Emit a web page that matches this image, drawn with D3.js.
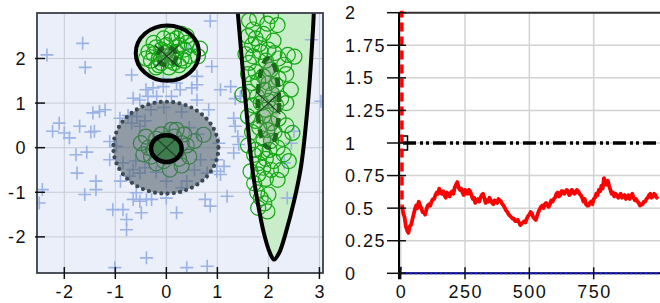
<!DOCTYPE html>
<html>
<head>
<meta charset="utf-8">
<script src="https://cdn.jsdelivr.net/npm/d3@7"></script>
<style>
body { margin: 0; background: #fff; }
svg text { font-family: "Liberation Sans", Arial, sans-serif; font-size: 18px; letter-spacing: 1.5px; fill: #111; }
</style>
</head>
<body>
<svg width="660" height="303"></svg>
<script>
// LEFT PANEL DATA
var leftXTicks = [-2, -1, 0, 1, 2, 3];
var leftYTicks = [-2, -1, 0, 1, 2];

// blue "+" samples
var blueCrosses = [
  [-2.34,2.08],[-1.64,2.34],[-1.59,1.80],[0.86,2.84],[0.89,1.82],[-0.68,1.63],[0.43,2.23],[0.6,1.41],
  [-0.26,1.34],[-0.06,1.37],[0.27,1.3],[0.5,1.34],[0.1,1.15],[-0.19,1.15],[-0.65,1.11],[-0.52,1.07],
  [-0.36,1.15],[-0.06,1.55],[0.2,1.45],[-0.4,1.3],[1.06,1.3],[1.26,1.37],[0.83,0.85],[0.6,1.07],
  [-1.31,0.81],[-1.44,0.78],[-1.2,0.85],[-2.1,0.55],[-2.23,0.37],[-2.0,0.33],[-1.9,0.22],[-1.7,0.48],
  [-1.41,0.37],[-1.48,0.35],[-0.91,0.66],[-0.68,0.55],[-0.52,0.48],[-0.42,0.6],[-0.75,0.72],[-0.58,0.7],
  [1.32,0.66],[1.42,0.07],[1.32,-0.12],[1.35,0.48],[1.4,0.25],[1.03,0.1],[0.45,0.45],[0.62,0.3],
  [-1.11,0.14],[-0.98,0.03],[-1.77,-0.16],[-1.56,-0.1],[-1.11,-0.27],[-0.85,-0.34],[-1.75,-0.57],
  [-1.38,-0.75],[-1.38,-0.94],[-2.43,-0.94],[-2.49,-1.24],[-0.65,-0.49],[-0.52,-0.57],[-0.72,-0.64],
  [-0.42,-0.45],[-0.6,-0.3],[0.67,-0.27],[0.8,-0.57],[0.99,-0.53],[1.13,-0.42],[1.06,-0.6],[0.99,-0.27],
  [0.4,-0.75],[0.0,-0.75],[0.55,-0.5],[-0.59,-1.01],[-0.65,-1.16],[-0.52,-1.2],[-0.39,-1.16],[-0.29,-1.16],
  [0.0,-1.13],[-1.05,-1.39],[-0.85,-1.39],[-0.78,-1.61],[-0.78,-1.84],[-0.49,-1.46],[0.2,-1.46],
  [0.76,-1.16],[0.86,-1.31],[1.19,-1.09],[-0.39,-2.47],[-1.01,-2.69],[0.4,-2.69],[0.8,-2.66],
  [3.03,1.04],[2.84,2.42],[1.45,1.15],[1.35,1.1],[2.5,0.37],[2.37,-1.13],[2.31,-0.34],[2.45,0.1],
  [-0.2,-0.55],[0.3,-0.9],[-0.9,-0.75],[-1.6,-1.05],[0.6,1.6],[-0.3,0.85],[0.3,0.8],[-0.05,0.9]
];

// green "o" samples, three clusters
var greenCircles = [
  // around (0, 2)
  [-0.05,2.05],[0.1,2.1],[-0.15,2.0],[0.05,1.95],[0.2,2.15],[-0.25,2.1],[0.15,1.9],[-0.1,2.2],
  [0.3,2.0],[0,2.3],[-0.3,1.95],[0.25,2.3],[0.4,2.35],[0.35,2.2],[-0.2,2.25],[0.1,2.4],
  [-0.35,2.15],[0.05,1.8],[-0.15,1.85],[0.25,1.85],[0.45,2.05],[0.5,2.3],[-0.05,2.45],[0.2,2.45],
  [0.62,2.05],[-0.4,2.0],[0.3,2.55],[0.1,2.55],[-0.25,2.35],[0.15,2.0],[-0.1,1.9],[0.35,1.95],
  [0.0,2.15],[-0.2,1.8],[0.4,2.5],[0.66,2.22],
  // around (0, 0)
  [0,0],[0.1,0.05],[-0.1,-0.05],[0.05,0.15],[-0.15,0.1],[0.2,-0.1],[-0.25,-0.05],[0.15,0.25],
  [-0.2,0.2],[0.3,0.1],[-0.35,0.0],[0.05,-0.2],[-0.05,-0.3],[0.25,-0.25],[-0.3,-0.2],[0.4,0.05],
  [-0.45,-0.15],[0.1,0.4],[-0.1,0.3],[0.35,0.3],[0.45,-0.2],[0.07,-0.49],[0.73,0.29],[-0.5,0.1],
  [0.2,0.4],[-0.2,-0.35],[0.55,0.15],[-0.4,0.25],[0.3,-0.4],[0,0.2],
  // around (2, 1)
  [1.62,2.85],[1.78,2.9],[1.98,2.78],[2.18,2.75],[1.7,2.65],[2.05,2.95],[1.6,2.5],[1.75,2.45],
  [1.9,2.55],[2.1,2.4],[1.68,2.3],[1.82,2.32],[1.55,2.1],[1.7,2.05],[1.85,2.15],[2.0,2.2],
  [2.2,2.0],[2.38,2.08],[2.51,2.04],[1.95,1.95],[2.12,2.12],[2.31,1.86],[1.62,1.9],[1.6,1.65],
  [1.75,1.7],[1.9,1.6],[2.05,1.75],[2.2,1.55],[2.35,1.65],[1.8,1.5],[2.0,1.45],[2.15,1.4],
  [1.68,1.45],[1.49,1.19],[1.62,1.25],[1.78,1.15],[1.92,1.3],[2.08,1.2],[2.25,1.1],[2.44,1.3],
  [1.85,1.0],[2.0,1.05],[2.15,0.95],[1.7,0.95],[2.35,1.0],[1.95,0.85],[1.6,0.7],[1.75,0.6],
  [1.9,0.7],[2.05,0.55],[2.2,0.65],[2.35,0.5],[1.82,0.45],[1.98,0.4],[2.12,0.35],[2.47,0.33],
  [1.68,0.35],[2.28,0.2],[1.9,0.2],[2.05,0.15],[1.6,0.05],[1.75,-0.05],[1.72,-0.16],[1.88,-0.1],
  [2.02,-0.05],[2.18,0.0],[2.3,-0.15],[1.95,-0.25],[2.1,-0.3],[1.8,-0.35],[2.4,-0.3],[1.65,-0.53],
  [1.8,-0.6],[1.95,-0.7],[2.18,-0.72],[2.05,-0.5],[1.9,-0.45],[2.25,-0.5],[1.72,-0.8],[1.85,-1.13],
  [1.78,-1.0],[2.0,-1.05],[1.92,-1.25],[1.8,-1.35],[1.98,-1.43]
];

// decision boundary of the right class
var boundaryPts = [
  [1.38,3.3],[1.40,3.03],[1.55,1.07],[1.68,-0.42],[1.78,-1.16],[1.91,-1.91],[2.03,-2.36],[2.11,-2.51],
  [2.21,-2.36],[2.34,-1.91],[2.51,-1.16],[2.64,-0.42],[2.78,1.07],[2.87,2.57],[2.89,3.03],[2.9,3.3]
];
// [cx, cy, r]
var topRegion = [0.02, 2.12, 0.62];
var centerRegion = [0.0, -0.02, 0.3];
var grayRegion = [-0.01, 0.0, 1.03];
// dashed cluster ellipses [cx, cy, rx, ry]
var clusterEllipses = [[0.01, 2.05, 0.18, 0.2], [2.0, 1.0, 0.21, 1.0]];
var clusterCenters = [[0, 0], [0.01, 2.05], [2.0, 1.0]];

// RIGHT PANEL DATA
var rightXTicks = [0, 250, 500, 750];
var rightYTicks = [0, 0.25, 0.5, 0.75, 1, 1.25, 1.5, 1.75, 2];

var redHeadX = [4, 5];
var redHeadY = [3.0, 0.52];
var redStart = 10, redStep = 5;
var redY = [
  0.46,0.43,0.36,0.33,0.31,0.36,0.37,0.41,0.45,0.49,0.52,0.50,0.55,0.52,0.50,0.47,0.47,0.45,0.49,0.52,
  0.53,0.52,0.55,0.57,0.57,0.60,0.62,0.61,0.65,0.62,0.61,0.63,0.60,0.58,0.62,0.60,0.59,0.62,0.63,0.61,
  0.66,0.68,0.70,0.66,0.64,0.65,0.62,0.60,0.64,0.62,0.61,0.64,0.63,0.60,0.57,0.58,0.54,0.56,0.57,0.55,
  0.58,0.60,0.61,0.58,0.54,0.56,0.55,0.58,0.56,0.54,0.53,0.56,0.55,0.54,0.57,0.56,0.55,0.53,0.52,0.50,
  0.48,0.47,0.45,0.44,0.43,0.42,0.42,0.40,0.40,0.41,0.39,0.37,0.38,0.39,0.40,0.39,0.42,0.44,0.45,0.47,
  0.46,0.43,0.42,0.41,0.44,0.47,0.49,0.51,0.52,0.50,0.53,0.54,0.52,0.51,0.53,0.56,0.55,0.57,0.58,0.61,
  0.62,0.59,0.60,0.63,0.63,0.61,0.62,0.64,0.63,0.60,0.61,0.64,0.63,0.61,0.62,0.64,0.63,0.61,0.60,0.58,
  0.55,0.57,0.53,0.52,0.52,0.54,0.55,0.53,0.57,0.58,0.61,0.60,0.64,0.63,0.67,0.65,0.73,0.69,0.68,0.71,
  0.67,0.64,0.61,0.62,0.59,0.61,0.60,0.58,0.59,0.61,0.58,0.59,0.60,0.57,0.58,0.60,0.57,0.59,0.61,0.58,
  0.56,0.57,0.55,0.54,0.52,0.53,0.53,0.55,0.55,0.57,0.58,0.60,0.61,0.58,0.59,0.61,0.60,0.58,0.59
];
var blackX = [9, 1000];
var blackY = [1, 1];
var blueX = [0, 1, 1000];
var blueY = [0.05, 0, 0];

var svg = d3.select("svg");

// LEFT PANEL
var L = {x0: 37, x1: 323, y0: 13, y1: 273};
var xL = d3.scaleLinear().domain([-2.535, 3.07]).range([L.x0, L.x1]);
var yL = d3.scaleLinear().domain([-2.81, 3.02]).range([L.y1, L.y0]);

svg.append("clipPath").attr("id", "clipL")
  .append("rect").attr("x", L.x0).attr("y", L.y0).attr("width", L.x1 - L.x0).attr("height", L.y1 - L.y0);

svg.append("rect")
  .attr("x", L.x0).attr("y", L.y0).attr("width", L.x1 - L.x0).attr("height", L.y1 - L.y0)
  .attr("fill", "#eaeffa");

var left = svg.append("g").attr("clip-path", "url(#clipL)");

// grid
left.selectAll(".gx").data(leftXTicks).enter().append("line")
  .attr("x1", d => xL(d)).attr("x2", d => xL(d)).attr("y1", L.y0).attr("y2", L.y1)
  .attr("stroke", "#c6cbd6").attr("stroke-width", 1);
left.selectAll(".gy").data(leftYTicks).enter().append("line")
  .attr("x1", L.x0).attr("x2", L.x1).attr("y1", d => yL(d)).attr("y2", d => yL(d))
  .attr("stroke", "#c6cbd6").attr("stroke-width", 1);

var boundary = d3.line().x(d => xL(d[0])).y(d => yL(d[1])).curve(d3.curveCatmullRom);

function circ(g, c) {
  return g.append("ellipse")
    .attr("cx", xL(c[0])).attr("cy", yL(c[1]))
    .attr("rx", xL(c[2]) - xL(0)).attr("ry", yL(0) - yL(c[2]));
}

// light green regions
left.append("path").attr("d", boundary(boundaryPts)).attr("fill", "#c9edc9");
circ(left, topRegion).attr("fill", "#c9edc9");
circ(left, centerRegion).attr("fill", "#3d953d");

// blue crosses
left.selectAll(".cross").data(blueCrosses).enter().append("path")
  .attr("transform", d => "translate(" + xL(d[0]) + "," + yL(d[1]) + ")")
  .attr("d", "M-6.5,0H6.5M0,-6.5V6.5")
  .attr("stroke", "#9bb2e6").attr("stroke-width", 1.6).attr("fill", "none");

// green circles
left.selectAll(".circ").data(greenCircles).enter().append("circle")
  .attr("cx", d => xL(d[0])).attr("cy", d => yL(d[1])).attr("r", 7.5)
  .attr("fill", "none").attr("stroke", "#14a814").attr("stroke-width", 1.2);

// gray dotted region
circ(left, grayRegion)
  .attr("fill", "#54626e").attr("fill-opacity", 0.6)
  .attr("stroke", "#3c4954").attr("stroke-width", 4.2)
  .attr("stroke-linecap", "round").attr("stroke-dasharray", "0,6.3");

// dashed cluster ellipses
left.selectAll(".cell").data(clusterEllipses).enter().append("ellipse")
  .attr("cx", d => xL(d[0])).attr("cy", d => yL(d[1]))
  .attr("rx", d => xL(d[2]) - xL(0)).attr("ry", d => yL(0) - yL(d[3]))
  .attr("fill", "#6d7a6d").attr("fill-opacity", 0.35)
  .attr("stroke", "#1a6a1a").attr("stroke-width", 4.5).attr("stroke-dasharray", "9,6");

// X markers at cluster centres
left.selectAll(".xm").data(clusterCenters).enter().append("path")
  .attr("transform", d => "translate(" + xL(d[0]) + "," + yL(d[1]) + ")")
  .attr("d", "M-12,-11L12,11M-12,11L12,-11")
  .attr("stroke", "#1f3f25").attr("stroke-width", 1.2);

// black outlines
left.append("path").attr("d", boundary(boundaryPts))
  .attr("fill", "none").attr("stroke", "#000").attr("stroke-width", 4);
circ(left, topRegion).attr("fill", "none").attr("stroke", "#000").attr("stroke-width", 4);
circ(left, centerRegion).attr("fill", "none").attr("stroke", "#000").attr("stroke-width", 4.5);

// frame
svg.append("rect")
  .attr("x", L.x0).attr("y", L.y0).attr("width", L.x1 - L.x0).attr("height", L.y1 - L.y0)
  .attr("fill", "none").attr("stroke", "#3a3f4a").attr("stroke-width", 1.8);

// ticks + labels
svg.selectAll(".ltx").data(leftXTicks).enter().append("line")
  .attr("x1", d => xL(d)).attr("x2", d => xL(d)).attr("y1", L.y1 - 6).attr("y2", L.y1 + 6)
  .attr("stroke", "#111").attr("stroke-width", 1.5);
svg.selectAll(".ltxl").data(leftXTicks).enter().append("text")
  .attr("x", d => xL(d) + 0.75).attr("y", 298).attr("text-anchor", "middle")
  .text(d => d);
svg.selectAll(".lty").data(leftYTicks).enter().append("line")
  .attr("x1", L.x0 - 2).attr("x2", L.x0 + 8).attr("y1", d => yL(d)).attr("y2", d => yL(d))
  .attr("stroke", "#111").attr("stroke-width", 1.5);
svg.selectAll(".ltyl").data(leftYTicks).enter().append("text")
  .attr("x", 27).attr("y", d => yL(d) + 6.5).attr("text-anchor", "end")
  .text(d => d);

// RIGHT PANEL
var R = {x0: 399, x1: 660, y0: 12.7, y1: 273.3};
var xR = d3.scaleLinear().domain([-6.6, 1007.7]).range([R.x0, R.x1]);
var yR = d3.scaleLinear().domain([0, 2]).range([R.y1, R.y0]);

svg.append("clipPath").attr("id", "clipR")
  .append("rect").attr("x", R.x0).attr("y", R.y0 - 2).attr("width", R.x1 - R.x0).attr("height", R.y1 - R.y0 + 4);

var right = svg.append("g").attr("clip-path", "url(#clipR)");

right.selectAll(".gx").data(rightXTicks).enter().append("line")
  .attr("x1", d => xR(d)).attr("x2", d => xR(d)).attr("y1", R.y0).attr("y2", R.y1)
  .attr("stroke", "#d2d2d2").attr("stroke-width", 1.5);
right.selectAll(".gy").data(rightYTicks).enter().append("line")
  .attr("x1", R.x0).attr("x2", R.x1).attr("y1", d => yR(d)).attr("y2", d => yR(d))
  .attr("stroke", "#d2d2d2").attr("stroke-width", 1.5);

// axes lines (under the series)
right.append("line").attr("x1", R.x0).attr("x2", R.x1).attr("y1", R.y0).attr("y2", R.y0)
  .attr("stroke", "#333").attr("stroke-width", 2);
svg.append("line").attr("x1", R.x0).attr("x2", R.x0).attr("y1", R.y0).attr("y2", R.y1 + 6)
  .attr("stroke", "#000").attr("stroke-width", 2);
svg.append("line").attr("x1", R.x0).attr("x2", R.x1).attr("y1", R.y1).attr("y2", R.y1)
  .attr("stroke", "#000").attr("stroke-width", 2);

var series = svg.append("g").attr("clip-path", "url(#clipR)");

var redPts = redY.map((v, i) => [redStart + i * redStep, v]);
var headPts = redHeadX.map((v, i) => [v, redHeadY[i]]);
var lineR = d3.line().x(d => xR(d[0])).y(d => yR(d[1]));

// blue dotted
series.append("path")
  .attr("d", lineR(blueX.map((v, i) => [v, blueY[i]])))
  .attr("fill", "none").attr("stroke", "#1c1cff").attr("stroke-width", 2)
  .attr("stroke-dasharray", "3,2");

// black dash-dot
series.append("path")
  .attr("d", lineR(blackX.map((v, i) => [v, blackY[i]])))
  .attr("fill", "none").attr("stroke", "#000").attr("stroke-width", 3.5)
  .attr("stroke-dasharray", "13,4,3,3,3,4");
series.append("rect")
  .attr("x", xR(blackX[0]) - 4.5).attr("y", yR(blackY[0]) - 7)
  .attr("width", 9).attr("height", 14)
  .attr("fill", "none").attr("stroke", "#000").attr("stroke-width", 1.5);

// red series: steep start dashed, rest solid
series.append("path")
  .attr("d", lineR(headPts))
  .attr("fill", "none").attr("stroke", "#ff0000").attr("stroke-width", 3.5)
  .attr("stroke-dasharray", "9,5");
series.append("path")
  .attr("d", lineR([headPts[1]].concat(redPts)))
  .attr("fill", "none").attr("stroke", "#ff0000").attr("stroke-width", 3.8)
  .attr("stroke-linejoin", "round");

svg.selectAll(".rtx").data(rightXTicks).enter().append("line")
  .attr("x1", d => xR(d)).attr("x2", d => xR(d)).attr("y1", R.y1 - 6).attr("y2", R.y1 + 6)
  .attr("stroke", "#111").attr("stroke-width", 1.5);
svg.selectAll(".rtxl").data(rightXTicks).enter().append("text")
  .attr("x", d => xR(d) + 0.75).attr("y", 298).attr("text-anchor", "middle")
  .text(d => d);
svg.selectAll(".rty").data(rightYTicks).enter().append("line")
  .attr("x1", R.x0 - 12).attr("x2", R.x0 + 7).attr("y1", d => yR(d)).attr("y2", d => yR(d))
  .attr("stroke", "#111").attr("stroke-width", 1.5);
svg.selectAll(".rtyl").data(rightYTicks).enter().append("text")
  .attr("x", 345).attr("y", d => yR(d) + 6.5).attr("text-anchor", "start")
  .text(d => d);
</script>
</body>
</html>
